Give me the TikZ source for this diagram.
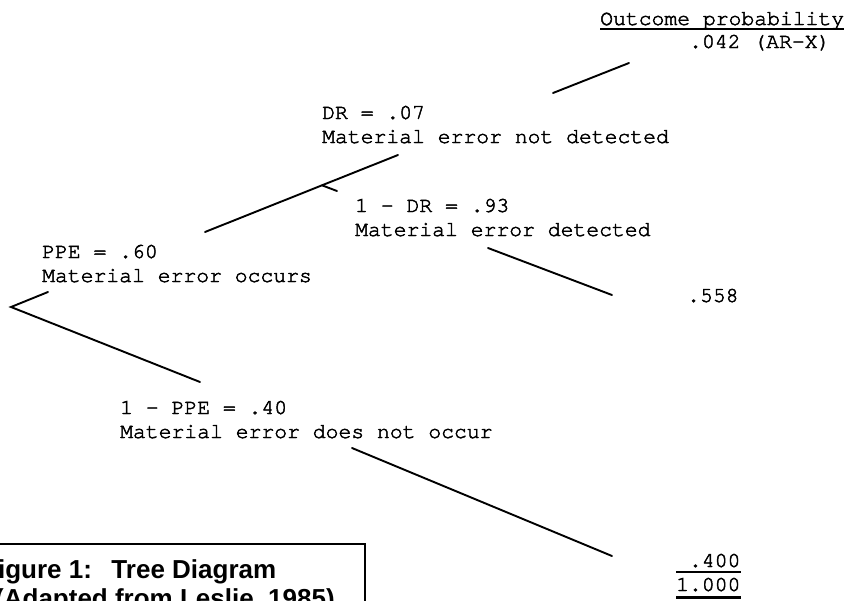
\documentclass[tikz,border=0pt]{standalone}
\usepackage{fontspec}
\newfontfamily\capfont{Liberation Sans}
\newfontfamily\courfont{TeX Gyre Cursor}[RawFeature={embolden=2.2}]
\usetikzlibrary{calc}
\tikzset{
  lbl/.style={anchor=base west, inner sep=0pt, font=\courfont\fontsize{21.4}{24}\selectfont},
  branch/.style={line width=1.9pt, line cap=round},
  uline/.style={line width=1.3pt},
  captext/.style={anchor=base west, inner sep=0pt, font=\capfont\bfseries\fontsize{26}{30}\selectfont},
}
\begin{document}
\begin{tikzpicture}[x=1pt,y=-1pt]
\useasboundingbox (0,0) rectangle (850,600);
\clip (0,0) rectangle (850,600);
% header
\node[lbl] (head) at (600,25) {Outcome probability};
\draw[uline] ($(head.base west)+(0,4)$) -- ($(head.base east)+(0,4)$);
\node[lbl] (o1) at (689,48) {.042 (AR-X)};
% labels
\node[lbl] (dr) at (322,119) {DR = .07};
\node[lbl] (drt) at (322,143) {Material error not detected};
\node[lbl] (ndr) at (355,212) {1 - DR = .93};
\node[lbl] (ndrt) at (355,236) {Material error detected};
\node[lbl] (ppe) at (42,258) {PPE = .60};
\node[lbl] (ppet) at (42,282) {Material error occurs};
\node[lbl] (o2) at (687,302) {.558};
\node[lbl] (nppe) at (120,414) {1 - PPE = .40};
\node[lbl] (nppet) at (120,438) {Material error does not occur};
\node[lbl] (o3) at (676,567) {\phantom{1}.400};
\draw[uline] ($(o3.base west)+(0,5)$) -- ($(o3.base east)+(0,5)$);
\node[lbl] (tot) at (676,591) {1.000};
\draw[line width=3pt] ($(tot.base west)+(0,6.5)$) -- ($(tot.base east)+(0,6.5)$);
% tree coordinates
\coordinate (root) at (11,307);
\coordinate (rup) at (48,292);
\coordinate (rlow) at (200,382);
\coordinate (a1) at (205,232);
\coordinate (fork) at (322,185.3);
\coordinate (a2) at (398,155);
\coordinate (tick) at (337,191);
\coordinate (b1) at (553,93);
\coordinate (b2) at (629,63);
\coordinate (c1) at (488,248);
\coordinate (c2) at (612,295);
\coordinate (d1) at (352,448);
\coordinate (d2) at (612,556);
\draw[branch] (rup) -- (root) -- (rlow);
\draw[branch] (a1) -- (fork) -- (a2);
\draw[branch] (fork) -- (tick);
\draw[branch] (b1) -- (b2);
\draw[branch] (c1) -- (c2);
\draw[branch] (d1) -- (d2);
% caption box
\draw[line width=1.5pt] (-24,621) -- (-24,544) -- (365,544) -- (365,621);
\node[captext] (cap1) at (-18,578) {Figure 1:\hspace{0.75em}Tree Diagram};
\node[captext] (cap2) at (-5,607) {(Adapted from Leslie, 1985)};
\end{tikzpicture}
\end{document}
